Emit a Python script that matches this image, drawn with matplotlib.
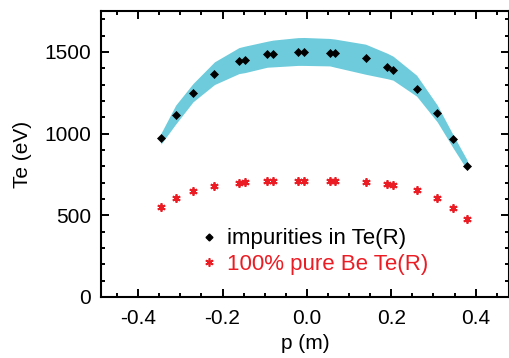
import matplotlib
matplotlib.use("Agg")
import matplotlib.pyplot as plt
from matplotlib.ticker import MultipleLocator, FormatStrFormatter
from matplotlib.lines import Line2D

plt.rcParams['font.family'] = ['Liberation Sans', 'DejaVu Sans']
plt.rcParams['axes.unicode_minus'] = False

# Data
p_m = [-0.346, -0.311, -0.270, -0.219, -0.161, -0.147, -0.094, -0.080, -0.022, -0.007,
       0.054, 0.067, 0.139, 0.190, 0.204, 0.260, 0.309, 0.347, 0.380]
te_impurities = [975, 1112, 1251, 1365, 1441, 1453, 1484, 1488, 1498, 1498,
                 1494, 1494, 1460, 1408, 1388, 1273, 1127, 964, 800]
te_pure_be = [551, 606, 647, 680, 698, 702, 708, 710, 710, 710,
              710, 710, 702, 692, 686, 653, 606, 547, 478]
band_upper = [1001, 1174, 1306, 1439, 1526, 1535, 1565, 1572, 1587, 1588,
              1582, 1578, 1547, 1492, 1474, 1357, 1174, 990, 837]
band_lower = [935, 1058, 1194, 1300, 1367, 1373, 1406, 1408, 1417, 1417,
              1414, 1406, 1363, 1336, 1327, 1229, 1071, 910, 776]
labels = ["impurities in Te(R)", "100% pure Be Te(R)"]

cyan = "#6dcbdb"
red = "#ec1c24"

fig = plt.figure(figsize=(5.10, 3.58), dpi=100)
ax = fig.add_axes([101/510, 1-297/358, 408/510, 286/358])

ax.fill_between(p_m, band_lower, band_upper, color=cyan, linewidth=0)
ax.plot(p_m, te_impurities, linestyle='none', marker='D', markersize=4.2,
        color='black', markeredgewidth=0.5)
ax.plot(p_m, te_pure_be, linestyle='none', marker=(6, 2, 0), markersize=6,
        color=red, markeredgewidth=1.3)

ax.set_xlim(-0.488, 0.479)
ax.set_ylim(0, 1750)
ax.xaxis.set_major_locator(MultipleLocator(0.2))
ax.xaxis.set_minor_locator(MultipleLocator(0.05))
ax.yaxis.set_major_locator(MultipleLocator(500))
ax.yaxis.set_minor_locator(MultipleLocator(100))
ax.xaxis.set_major_formatter(FormatStrFormatter('%.1f'))
ax.tick_params(which='both', direction='in', top=True, right=True,
               labelsize=15, width=1.4, color='black')
ax.tick_params(which='major', length=5.5, pad=7)
ax.tick_params(axis='x', which='major', pad=9)
ax.tick_params(which='minor', length=3)
for s in ax.spines.values():
    s.set_linewidth(1.5)

ax.set_xlabel("p (m)", fontsize=15, labelpad=4)
ax.set_ylabel("Te (eV)", fontsize=15, labelpad=9)

handles = [Line2D([], [], linestyle='none', marker='D', markersize=3.5, color='black'),
           Line2D([], [], linestyle='none', marker=(6, 2, 0), markersize=6,
                  color=red, markeredgewidth=1.2)]
leg = ax.legend(handles, labels, loc='upper left', bbox_to_anchor=(0.227, 0.271),
                frameon=False, fontsize=16, handlelength=0.6, handletextpad=0.5,
                labelspacing=0.21, borderaxespad=0)
for t, c in zip(leg.get_texts(), ['black', red]):
    t.set_color(c)

fig.savefig("out.png", dpi=100)
